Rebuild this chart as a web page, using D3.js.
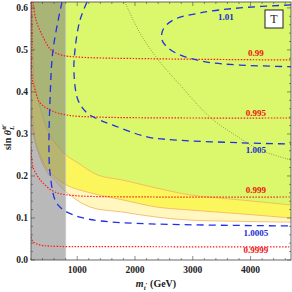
<!DOCTYPE html>
<html><head><meta charset="utf-8">
<script src="https://cdn.jsdelivr.net/npm/d3@7"></script>
<style>body{margin:0;background:#fff}svg{display:block}</style>
</head><body><svg id="c" width="292" height="292"></svg>
<script>
// ---- data ----
const xDomain = [200, 4700];
const yDomain = [0, 0.614];
const xTicks = [1000, 2000, 3000, 4000];
const xTickLabels = ["1000", "2000", "3000", "4000"];
const yTicks = [0, 0.1, 0.2, 0.3, 0.4, 0.5, 0.6];
const yTickLabels = ["0.0", "0.1", "0.2", "0.3", "0.4", "0.5", "0.6"];
const excludedMass = [200, 800];

// filled region boundaries (m, sin)
const bandPale = [[200,0.357],[235,0.302],[373,0.238],[500,0.205],[615,0.190],[806,0.162],[1221,0.126],[1792,0.114],[2380,0.102],[2951,0.095],[3816,0.092],[4700,0.090]];
const bandYellow = [[200,0.476],[217,0.381],[269,0.286],[356,0.250],[494,0.214],[806,0.179],[1221,0.160],[1792,0.143],[2380,0.126],[2951,0.119],[3816,0.110],[4700,0.100]];
const bandGreen = [[209,0.614],[235,0.488],[252,0.429],[321,0.381],[425,0.333],[546,0.293],[806,0.250],[1013,0.231],[1359,0.202],[1792,0.190],[2380,0.171],[2951,0.155],[3816,0.143],[4700,0.131]];

// red contours
const c0990 = [[235,0.614],[287,0.571],[408,0.531],[546,0.500],[719,0.488],[1013,0.483],[2259,0.479],[4700,0.476]];
const c0995 = [[209,0.614],[217,0.524],[217,0.436],[269,0.405],[356,0.374],[529,0.357],[823,0.345],[1394,0.340],[4700,0.338]];
const c0999 = [[200,0.269],[235,0.221],[321,0.198],[408,0.183],[581,0.164],[823,0.155],[2259,0.150],[4700,0.150]];
const c09999 = [[200,0.055],[235,0.043],[356,0.036],[529,0.033],[1394,0.032],[4700,0.031]];
// blue contours
const c1010 = [[4700,0.607],[3816,0.600],[3124,0.588],[2657,0.571],[2484,0.548],[2466,0.524],[2553,0.507],[2778,0.488],[3245,0.471],[3816,0.464],[4700,0.460]];
const c1005 = [[1169,0.614],[1048,0.571],[961,0.500],[944,0.445],[1013,0.381],[1169,0.350],[1394,0.333],[1619,0.321],[2207,0.293],[2657,0.286],[3816,0.279],[4700,0.276]];
const c10005 = [[736,0.614],[581,0.500],[529,0.381],[511,0.262],[529,0.207],[615,0.143],[702,0.126],[823,0.114],[1048,0.102],[1394,0.093],[2259,0.086],[4700,0.081]];
// dark dotted contour
const cDot = [[1826,0.614],[2086,0.540],[2432,0.471],[2778,0.417],[3297,0.340],[3816,0.290],[4162,0.262],[4700,0.238]];

const contourLabels = [
  {t:"1.01", m:3574, s:0.579, c:"blue"},
  {t:"0.99", m:4093, s:0.493, c:"red"},
  {t:"0.995", m:4093, s:0.350, c:"red"},
  {t:"1.005", m:4093, s:0.262, c:"blue"},
  {t:"0.999", m:4093, s:0.167, c:"red"},
  {t:"1.0005", m:4093, s:0.064, c:"blue"},
  {t:"0.9999", m:4093, s:0.024, c:"red"}
];

// ---- drawing ----
const svg = d3.select("#c");
const L = 31, R = 291, T = 2, B = 260;
const x = d3.scaleLinear().domain(xDomain).range([L, R]);
const y = d3.scaleLinear().domain(yDomain).range([B, T]);

svg.append("defs").append("clipPath").attr("id","clip")
  .append("rect").attr("x",L).attr("y",T).attr("width",R-L).attr("height",B-T);
const g = svg.append("g").attr("clip-path","url(#clip)");

const line = d3.line().x(d=>x(d[0])).y(d=>y(d[1])).curve(d3.curveCatmullRom.alpha(0.5));
function regionAbove(pts){
  return line(pts) + "L" + x(xDomain[1]) + "," + y(yDomain[1]) + "L" + x(xDomain[0]) + "," + y(yDomain[1]) + "Z";
}
const bands = [[bandPale,"#fff7bf"],[bandYellow,"#fbf65c"],[bandGreen,"#dbf76c"]];
bands.forEach(([pts,col])=>{
  g.append("path").attr("d",regionAbove(pts)).attr("fill",col).attr("stroke","none");
});
bands.forEach(([pts])=>{
  g.append("path").attr("d",line(pts)).attr("fill","none").attr("stroke","#f2b35a").attr("stroke-width",0.8);
});

// excluded mass region
g.append("rect").attr("x",x(excludedMass[0])).attr("y",T)
  .attr("width",x(excludedMass[1])-x(excludedMass[0])).attr("height",B-T)
  .attr("fill","#808080").attr("fill-opacity",0.55);
g.append("line").attr("x1",x(excludedMass[1])).attr("x2",x(excludedMass[1])).attr("y1",T).attr("y2",B)
  .attr("stroke","#c8c8c8").attr("stroke-width",0.8);

// contours
g.append("path").attr("d",line(cDot)).attr("fill","none").attr("stroke","#5f7a2a").attr("stroke-width",0.8).attr("stroke-dasharray","0.8,1.6");
[c0990,c0995,c0999,c09999].forEach(pts=>{
  g.append("path").attr("d",line(pts)).attr("fill","none").attr("stroke","#ff1a1a").attr("stroke-width",1.2).attr("stroke-dasharray","1.5,1.5");
});
[c1010,c1005,c10005].forEach(pts=>{
  g.append("path").attr("d",line(pts)).attr("fill","none").attr("stroke","#2030e6").attr("stroke-width",1.3).attr("stroke-dasharray","7,5");
});

// contour labels
svg.selectAll("text.cl").data(contourLabels).enter().append("text")
  .attr("class","cl").attr("x",d=>x(d.m)).attr("y",d=>y(d.s)).attr("dy","0.35em")
  .attr("text-anchor","middle").attr("font-family","'Liberation Serif', serif").attr("font-weight","bold")
  .attr("font-size",9).attr("fill",d=>d.c==="blue"?"#1a2ad6":"#ee1111").text(d=>d.t);

// frame
svg.append("rect").attr("x",L).attr("y",T).attr("width",R-L).attr("height",B-T)
  .attr("fill","none").attr("stroke","#444").attr("stroke-width",0.8);

// ticks (inward, all sides)
const xMinor = d3.range(200, 4701, 200);
const yMinor = d3.range(0, 0.6141, 0.02);
const tk = svg.append("g").attr("stroke","#444").attr("stroke-width",0.6);
xMinor.forEach(v=>{
  const major = xTicks.includes(v);
  const len = major ? 4 : 2;
  tk.append("line").attr("x1",x(v)).attr("x2",x(v)).attr("y1",B).attr("y2",B-len);
  tk.append("line").attr("x1",x(v)).attr("x2",x(v)).attr("y1",T).attr("y2",T+len);
});
yMinor.forEach(v=>{
  const major = Math.abs(v*10 - Math.round(v*10)) < 1e-6;
  const len = major ? 4 : 2;
  tk.append("line").attr("x1",L).attr("x2",L+len).attr("y1",y(v)).attr("y2",y(v));
  tk.append("line").attr("x1",R).attr("x2",R-len).attr("y1",y(v)).attr("y2",y(v));
});

const font = "'Liberation Serif', 'Times New Roman', serif";
svg.selectAll("text.xt").data(xTicks).enter().append("text").attr("class","xt")
  .attr("x",d=>x(d)).attr("y",273).attr("text-anchor","middle")
  .attr("font-family",font).attr("font-weight","bold").attr("font-size",9.5).attr("fill","#222")
  .text((d,i)=>xTickLabels[i]);
svg.selectAll("text.yt").data(yTicks).enter().append("text").attr("class","yt")
  .attr("x",28).attr("y",d=>y(d)).attr("dy","0.35em").attr("text-anchor","end")
  .attr("font-family",font).attr("font-weight","bold").attr("font-size",9.5).attr("fill","#222")
  .text((d,i)=>yTickLabels[i]);

// axis titles
const xt = svg.append("text").attr("x",156).attr("y",287).attr("text-anchor","middle")
  .attr("font-family",font).attr("font-weight","bold").attr("font-size",10).attr("fill","#222");
xt.append("tspan").attr("font-style","italic").text("m");
xt.append("tspan").attr("font-style","italic").attr("font-size",7).attr("dy",2.5).text("t");
xt.append("tspan").attr("font-size",7).attr("dy",-2.5).text("\u2032");
xt.append("tspan").text(" (GeV)");

const yt = svg.append("text").attr("transform","translate(11,137) rotate(-90)").attr("text-anchor","middle")
  .attr("font-family",font).attr("font-weight","bold").attr("font-size",10).attr("fill","#222");
yt.append("tspan").text("sin ");
yt.append("tspan").attr("font-style","italic").text("\u03B8");
yt.append("tspan").attr("font-style","italic").attr("font-size",7).attr("dy",3).text("L");
yt.append("tspan").attr("font-style","italic").attr("font-size",7).attr("dx",-4).attr("dy",-8).text("tt\u2032");

// "T" box
svg.append("rect").attr("x",265).attr("y",10).attr("width",18).attr("height",18)
  .attr("fill","#fff").attr("stroke","#222").attr("stroke-width",1);
svg.append("text").attr("x",274).attr("y",19).attr("dy","0.35em").attr("text-anchor","middle")
  .attr("font-family",font).attr("font-size",12).attr("fill","#222").text("T");
</script></body></html>
